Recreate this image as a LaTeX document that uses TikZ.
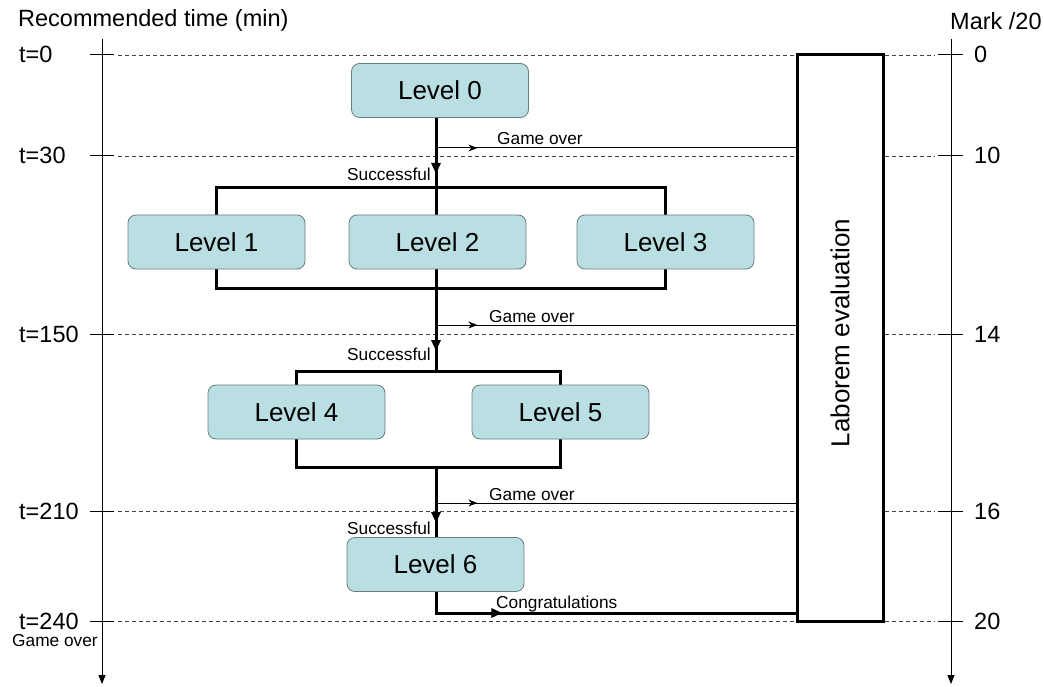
\documentclass[tikz,border=0pt]{standalone}
\usepackage{fontspec}
\setmainfont{Liberation Sans}
\usetikzlibrary{arrows.meta,decorations.markings,backgrounds}
\definecolor{levelfill}{RGB}{185,223,227}
\definecolor{levelborder}{RGB}{105,125,130}
\begin{document}
\begin{tikzpicture}[x=1pt,y=-1pt,
  levelbox/.style={draw=levelborder, fill=levelfill, rounded corners=8pt,
    minimum width=177pt, minimum height=54pt, inner sep=0pt, line width=0.8pt,
    font=\fontsize{26}{29}\selectfont},
  axisline/.style={line width=1pt, -{Triangle[length=9pt,width=7pt]}},
  gridline/.style={line width=0.8pt, black!75, dash pattern=on 4pt off 3pt},
  tickline/.style={line width=1pt},
  bigtext/.style={font=\fontsize{23.5}{27}\selectfont, inner sep=0pt},
  smalltext/.style={font=\fontsize{17.3}{20}\selectfont, inner sep=0pt},
  heavy/.style={line width=3pt},
  flowline/.style={line width=3pt, postaction={decorate},
    decoration={markings, mark=at position #1 with {\arrow{Triangle[length=11pt,width=9pt]}}}},
  goline/.style={line width=1pt, postaction={decorate},
    decoration={markings, mark=at position #1 with {\arrow{Stealth[length=9pt,width=7pt]}}}}
]
\useasboundingbox (0,0) rectangle (1044,687);

% axes
\coordinate (lt) at (102,39); \coordinate (lb) at (102,684);
\coordinate (rt) at (951,39); \coordinate (rb) at (951,684);
\draw[axisline] (lt) -- (lb);
\draw[axisline] (rt) -- (rb);
\node[bigtext, anchor=base west] (rec) at (18,27) {Recommended time (min)};
\node[bigtext, anchor=base west] (mark) at (950,30) {Mark /20};

% Laborem box
\node[draw, line width=3pt, minimum width=86pt, minimum height=566pt, inner sep=0pt] (lab) at (840,338) {};
\node[font=\fontsize{26}{29}\selectfont, rotate=90, inner sep=0pt] (labtext) at (840,333) {Laborem evaluation};

% ticks, dashed lines and labels
\foreach \yy/\tl/\ml [count=\i] in {55/t=0/0, 156/t=30/10, 334/t=150/14, 511/t=210/16, 621/t=240/20}{
  \coordinate (tl\i) at (90,\yy);
  \coordinate (tr\i) at (963,\yy);
  \draw[tickline] (tl\i) -- (114,\yy);
  \draw[gridline] (118,\yy) -- (tl\i -| lab.west);
  \draw[gridline] (tl\i -| lab.east) -- (935,\yy);
  \draw[tickline] (938,\yy) -- (tr\i);
  \node[bigtext, anchor=base west] (tlab\i) at (19,\yy+8) {\tl};
  \node[bigtext, anchor=base west] (mlab\i) at (974,\yy+8) {\ml};
}
\node[smalltext, anchor=base west] (lgo) at (12,646) {Game over};

% levels
\node[levelbox] (L0) at (440,90.5) {Level 0};
\node[levelbox] (L1) at (216.5,242) {Level 1};
\node[levelbox] (L2) at (437.5,242) {Level 2};
\node[levelbox] (L3) at (665.5,242) {Level 3};
\node[levelbox] (L4) at (296.5,412) {Level 4};
\node[levelbox] (L5) at (560.5,412) {Level 5};
\node[levelbox] (L6) at (435.5,564.5) {Level 6};

% spine coordinates
\coordinate (b1t) at (436,188);
\coordinate (b1b) at (436,288);
\coordinate (b2t) at (436,371);
\coordinate (b2b) at (436,467);
\coordinate (cg) at (436,613);
\coordinate (g1) at (436,148);
\coordinate (g2) at (436,325);
\coordinate (g3) at (436,503);

\begin{scope}[on background layer]
  \draw[heavy] (L1.center |- b1t) rectangle (L3.center |- b1b);
  \draw[heavy] (L4.center |- b2t) rectangle (L5.center |- b2b);
  \draw[heavy] (b1t) -- (b1b);
\end{scope}

% flow
\draw[flowline=0.8] (L0.south -| b1t) -- (b1t);
\draw[flowline=0.76] (b1b) -- (b2t);
\draw[flowline=0.8] (b2b) -- (L6.north -| b2b);
\draw[flowline=0.23] (L6.south -| cg) -- (cg) -- (cg -| lab.west);

% game over arrows
\draw[goline=0.115] (g1) -- (g1 -| lab.west);
\draw[goline=0.115] (g2) -- (g2 -| lab.west);
\draw[goline=0.115] (g3) -- (g3 -| lab.west);

% labels
\node[smalltext, anchor=base west] (go1) at (497,145) {Game over};
\node[smalltext, anchor=base west] (go2) at (489,322) {Game over};
\node[smalltext, anchor=base west] (go3) at (489,500) {Game over};
\node[smalltext, anchor=base east] (s1) at (431,181) {Successful};
\node[smalltext, anchor=base east] (s2) at (431,360) {Successful};
\node[smalltext, anchor=base east] (s3) at (431,534) {Successful};
\node[smalltext, anchor=base west] (cong) at (496,608) {Congratulations};
\end{tikzpicture}
\end{document}
